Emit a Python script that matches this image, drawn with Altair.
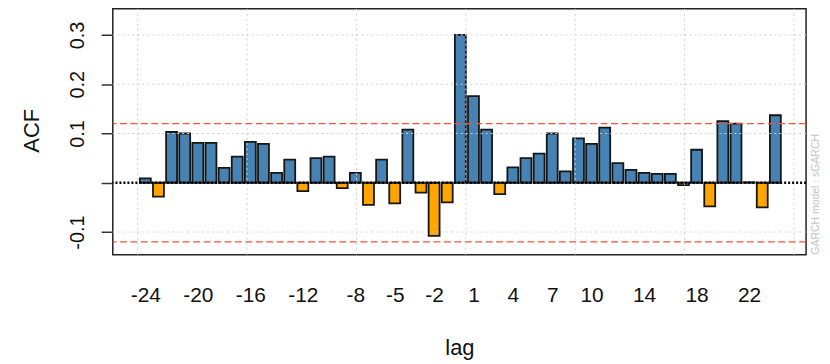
import altair as alt
import pandas as pd

# ---- data ----
lags = [-24, -23, -22, -21, -20, -19, -18, -17, -16, -15, -14, -13, -12,
        -11, -10, -9, -8, -7, -6, -5, -4, -3, -2, -1, 0,
        1, 2, 3, 4, 5, 6, 7, 8, 9, 10, 11, 12,
        13, 14, 15, 16, 17, 18, 19, 20, 21, 22, 23, 24]
acf = [0.009, -0.028, 0.103, 0.100, 0.081, 0.081, 0.030, 0.053, 0.083, 0.079, 0.020, 0.047, -0.017,
       0.050, 0.053, -0.011, 0.020, -0.045, 0.047, -0.042, 0.108, -0.020, -0.108, -0.040, 0.300,
       0.176, 0.108, -0.023, 0.031, 0.050, 0.059, 0.100, 0.023, 0.090, 0.079, 0.112, 0.040,
       0.026, 0.020, 0.018, 0.018, -0.005, 0.067, -0.048, 0.125, 0.120, 0.001, -0.050, 0.137]
x_tick_lags = [-24, -20, -16, -12, -8, -5, -2, 1, 4, 7, 10, 14, 18, 22]
y_ticks = [-0.1, 0, 0.1, 0.2, 0.3]
conf_limits = [0.12, -0.12]
grid_units = [0, 10, 20, 30, 40, 50, 60]      # R barplot grid positions
grid_y = [-0.1, 0.1, 0.2, 0.3]
note = ["GARCH model : sGARCH"]

bars_df = pd.DataFrame({"lag": lags, "acf": acf})
gridx_df = pd.DataFrame({"u": grid_units})
gridy_df = pd.DataFrame({"v": grid_y})
conf_df = pd.DataFrame({"c": conf_limits})
zero_df = pd.DataFrame({"z": [0]})
note_df = pd.DataFrame({"t": note})

VIEW_W = 696.7
VIEW_H = 247
FONT = "Liberation Sans"

xs = alt.Scale(domain=[-26.48, 26.34], nice=False, zero=False)
ys = alt.Scale(domain=[-0.146, 0.353], nice=False, zero=False)

x_axis = alt.Axis(
    values=x_tick_lags, labelExpr="'' + datum.value", ticks=False, domain=False,
    grid=False, labelFontSize=21, labelPadding=30, labelBaseline="top",
    labelAlign="center", labelOverlap=False, labelFlush=False, labelColor="#111",
    title="lag", titleFontSize=22, titleFontWeight="normal", titleColor="#111",
    titleY=100, titleBaseline="alphabetic")
y_axis = alt.Axis(
    values=y_ticks, labelExpr="datum.value == 0 ? '' : '' + datum.value",
    labelAngle=270, labelAlign="center", labelBaseline="alphabetic",
    labelFontSize=20, labelPadding=18, tickSize=11.7, tickColor="#333",
    tickWidth=1.5, domain=False, grid=False, labelOverlap=False,
    labelFlush=False, labelColor="#111",
    title="ACF", titleFontSize=22, titleFontWeight="normal", titleAngle=270,
    titleX=-75, titleY=122, titleAlign="center", titleBaseline="alphabetic",
    titleColor="#111")

bars = alt.Chart(bars_df).transform_calculate(
    x0="datum.lag - 5/12", x1="datum.lag + 5/12",
    sign="datum.acf >= 0 ? 'pos' : 'neg'"
).mark_bar(stroke="#161616", strokeWidth=1.8).encode(
    x=alt.X("x0:Q", scale=xs, axis=x_axis),
    x2="x1:Q",
    y=alt.Y("acf:Q", scale=ys, axis=y_axis),
    y2=alt.datum(0),
    color=alt.Color("sign:N", scale=alt.Scale(domain=["pos", "neg"],
                                              range=["#4682B4", "#FFA500"]), legend=None),
)

gridx = alt.Chart(gridx_df).transform_calculate(
    gl="(datum.u - 0.7) / 1.2 - 24"
).mark_rule(color="#D0D0D0", strokeDash=[2, 3], strokeWidth=1).encode(
    x=alt.X("gl:Q", scale=xs, axis=x_axis)
)

gridy = alt.Chart(gridy_df).mark_rule(
    color="#D0D0D0", strokeDash=[2, 3], strokeWidth=1
).encode(y=alt.Y("v:Q", scale=ys, axis=y_axis))

conf = alt.Chart(conf_df).mark_rule(
    color="#F5553A", strokeDash=[7, 3.5], strokeWidth=1.3
).encode(y=alt.Y("c:Q", scale=ys, axis=y_axis))

zero = alt.Chart(zero_df).mark_rule(
    color="black", strokeDash=[2, 2], strokeWidth=2.5
).encode(y=alt.Y("z:Q", scale=ys, axis=y_axis))

note_layer = alt.Chart(note_df).mark_text(
    angle=270, align="left", baseline="middle", fontSize=10.5,
    color="#C4C4C4", font=FONT
).encode(
    text="t:N",
    x=alt.value(VIEW_W + 10),
    y=alt.value(VIEW_H),
)

chart = alt.layer(bars, gridx, gridy, conf, zero, note_layer).properties(
    width=VIEW_W, height=VIEW_H,
    autosize=alt.AutoSizeParams(type="none"),
    padding={"left": 105.3, "top": 0, "right": 16, "bottom": 106},
    background="white",
).configure(font=FONT).configure_view(
    stroke="#222", strokeWidth=1.5
)

chart.save("out.html", embed_options={"renderer": "svg", "actions": False})
